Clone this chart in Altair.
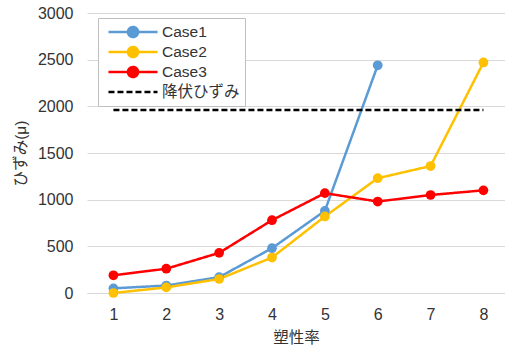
import altair as alt
import pandas as pd

# Plasticity ratio (x) and measured strain for each case
ratio = [1, 2, 3, 4, 5, 6, 7, 8]
case1 = [50, 80, 170, 480, 880, 2440]
case2 = [0, 60, 150, 380, 820, 1230, 1360, 2470]
case3 = [190, 260, 430, 780, 1070, 980, 1050, 1100]
yield_strain = 1960
yield_span = [1, 8]

series_names = ["Case1", "Case2", "Case3", "降伏ひずみ"]
series_colors = ["#5B9BD5", "#FFC000", "#FF0000", "#000000"]
series_dash = [[1, 0], [1, 0], [1, 0], [6, 3]]
series_width = [2.5, 2.5, 2.5, 3]

rows = []
for name, vals in (("Case1", case1), ("Case2", case2), ("Case3", case3)):
    for x, v in zip(ratio, vals):
        rows.append({"series": name, "ratio": x, "strain": v})
cases = pd.DataFrame(rows)
yline = pd.DataFrame({"series": "降伏ひずみ", "ratio": yield_span,
                      "strain": [yield_strain] * len(yield_span)})
lines_df = pd.concat([cases, yline], ignore_index=True)

FONT = "Liberation Sans, Arial, Noto Sans CJK JP, sans-serif"
TEXT = "#333333"
GRID = "#d9d9d9"

# legend glyphs: a long stroke (wider than the layout box) with / without a dot
LINE_DOT = ("M-3.27,0L3.27,0M0.67,0A0.67,0.67,0,1,1,-0.67,0"
            "A0.67,0.67,0,1,1,0.67,0Z")
LINE_ONLY = "M-3.27,0L3.27,0"

x_enc = alt.X("ratio:Q", title="塑性率",
              scale=alt.Scale(domain=[0.5, 8.408], nice=False, zero=False),
              axis=alt.Axis(values=ratio, format="d", grid=False, ticks=False,
                            domainColor=GRID, domainWidth=1,
                            labelPadding=13, titlePadding=8))
y_enc = alt.Y("strain:Q", title="ひずみ(μ)",
              scale=alt.Scale(domain=[0, 3000], nice=False),
              axis=alt.Axis(values=[0, 500, 1000, 1500, 2000, 2500, 3000],
                            format="d", domain=False, ticks=False,
                            gridColor=GRID, gridWidth=1,
                            labelPadding=14, titlePadding=9))


def sc(rng):
    return alt.Scale(domain=series_names, range=rng)


lines = alt.Chart(lines_df).mark_line().encode(
    x=x_enc, y=y_enc,
    stroke=alt.Stroke("series:N", scale=sc(series_colors), legend=None),
    strokeDash=alt.StrokeDash("series:N", scale=sc(series_dash), legend=None),
    strokeWidth=alt.StrokeWidth("series:N", scale=sc(series_width), legend=None),
)

points = alt.Chart(cases).mark_circle(size=95, opacity=1).encode(
    x="ratio:Q", y="strain:Q",
    fill=alt.Fill("series:N", scale=sc(series_colors), legend=None),
)

# key: entries come from the scale domains, no marks of its own are drawn
legend = alt.Legend(
    title=None, orient="none", legendX=11, legendY=5,
    fillColor="white", strokeColor="#bfbfbf", padding=5,
    symbolSize=225, symbolStrokeWidth=2.5, symbolOffset=21,
    labelOffset=20, rowPadding=-7,
    labelFont=FONT, labelFontSize=15.5, labelColor=TEXT,
)
key = alt.Chart(lines_df).transform_filter("false").mark_point(
    filled=True, opacity=1, strokeWidth=2.5
).encode(
    fill=alt.Fill("series:N", scale=sc(series_colors), legend=legend),
    stroke=alt.Stroke("series:N", scale=sc(series_colors), legend=legend),
    shape=alt.Shape("series:N", scale=sc([LINE_DOT, LINE_DOT, LINE_DOT, LINE_ONLY]),
                    legend=legend),
    strokeDash=alt.StrokeDash("series:N", scale=sc(series_dash), legend=legend),
)

chart = alt.layer(lines, points, key).resolve_scale(
    fill="independent", stroke="independent",
    strokeDash="independent", shape="independent",
).resolve_legend(
    fill="independent", stroke="independent",
    strokeDash="independent", shape="independent",
).properties(
    width=418, height=280,
    autosize=alt.AutoSizeParams(type="none"),
    padding={"left": 87, "top": 13, "right": 0, "bottom": 63},
).configure_view(stroke=None).configure_axis(
    labelFont=FONT, labelFontSize=16, labelColor=TEXT,
    titleFont=FONT, titleFontSize=15.5, titleColor=TEXT, titleFontWeight="normal",
)

chart.save("out.html", embed_options={"renderer": "svg", "actions": False})
